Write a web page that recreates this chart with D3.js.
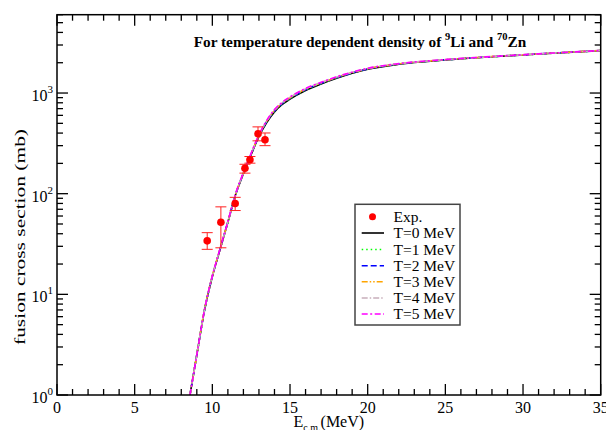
<!DOCTYPE html>
<html><head><meta charset="utf-8">
<script src="https://cdn.jsdelivr.net/npm/d3@7"></script>
<style>
body{margin:0;background:#fff}
text{font-family:"Liberation Serif","Times New Roman",serif;fill:#000}
</style>
</head><body>
<svg id="chart" width="606" height="430"></svg>
<script>
// ---- data ----
const energy  = [8.56, 9.0, 9.5, 10, 10.5, 11, 11.5, 12, 12.5, 13, 13.5, 14, 14.5, 15, 16, 17, 18, 20, 22, 25, 28, 31, 35];
const sigmaT0 = [1.0, 2.5, 7.0, 15, 28, 52, 98, 158, 245, 370, 510, 650, 770, 870, 1060, 1230, 1400, 1720, 1930, 2130, 2290, 2440, 2640];
const sigmaT1 = [1.0, 2.5, 7.0, 15.1, 28.1, 52.2, 98.4, 159, 247, 373, 515, 657, 778, 879, 1070, 1240, 1410, 1728, 1936, 2134, 2293, 2442, 2641];
const sigmaT2 = [1.0, 2.5, 7.0, 15.1, 28.2, 52.4, 98.8, 160, 248, 376, 520, 664, 786, 888, 1080, 1250, 1420, 1736, 1942, 2138, 2296, 2444, 2642];
const sigmaT3 = [1.0, 2.5, 7.1, 15.2, 28.3, 52.6, 99.2, 160, 250, 379, 525, 671, 794, 897, 1090, 1260, 1430, 1744, 1948, 2142, 2299, 2446, 2643];
const sigmaT4 = [1.0, 2.5, 7.1, 15.2, 28.4, 52.8, 99.6, 161, 251, 382, 530, 678, 802, 906, 1100, 1270, 1440, 1752, 1954, 2146, 2302, 2448, 2644];
const sigmaT5 = [1.0, 2.5, 7.1, 15.3, 28.5, 53, 100, 162, 253, 385, 535, 685, 810, 915, 1110, 1280, 1450, 1760, 1960, 2150, 2305, 2450, 2645];

const expE     = [9.67, 10.55, 11.47, 12.10, 12.42, 12.94, 13.39];
const expSigma = [34, 52, 80, 179, 217, 393, 343];
const expLow   = [28, 29, 68, 160, 201, 335, 300];
const expHigh  = [41, 74, 92, 196, 234, 461, 401];

const seriesNames = ["T=0 MeV","T=1 MeV","T=2 MeV","T=3 MeV","T=4 MeV","T=5 MeV"];
const seriesValues = [sigmaT0, sigmaT1, sigmaT2, sigmaT3, sigmaT4, sigmaT5];
const seriesColors = ["#000000","#00ff00","#0000ff","#ffa500","#c8aebb","#ff00ff"];
const seriesDash = [null, "1.5,3", "6,3", "6,2,1.5,2,1.5,2", "6,2,1.5,2", "6,2.5,2,2.5"];

const xTickValues = [0,5,10,15,20,25,30,35];
const yTickExps = [0,1,2,3];

// ---- layout ----
const svg = d3.select("#chart");
const L = 57, R = 600.7, T = 14.7, B = 395;
const x = d3.scaleLinear().domain([0,35]).range([L,R]);
const y = d3.scaleLog().domain([1,6000]).range([B,T]);

const plot = svg.append("g");
plot.append("defs").append("clipPath").attr("id","clip")
  .append("rect").attr("x",L).attr("y",T).attr("width",R-L).attr("height",B-T);

// curves
const line = d3.line().x((d,i)=>x(energy[i])).y(d=>y(d)).curve(d3.curveMonotoneX);
const gLines = plot.append("g").attr("clip-path","url(#clip)");
seriesValues.forEach((vals,k)=>{
  gLines.append("path").datum(vals).attr("d",line)
    .attr("fill","none").attr("stroke",seriesColors[k])
    .attr("stroke-width",1.6)
    .attr("stroke-dasharray",seriesDash[k]);
});

// experimental points
const gExp = plot.append("g");
expE.forEach((e,i)=>{
  const cx = x(e);
  gExp.append("line").attr("x1",cx).attr("x2",cx).attr("y1",y(expLow[i])).attr("y2",y(expHigh[i]))
    .attr("stroke","#ff2020").attr("stroke-width",1);
  [expLow[i],expHigh[i]].forEach(v=>{
    gExp.append("line").attr("x1",cx-5.5).attr("x2",cx+5.5).attr("y1",y(v)).attr("y2",y(v))
      .attr("stroke","#ff2020").attr("stroke-width",1);
  });
  gExp.append("circle").attr("cx",cx).attr("cy",y(expSigma[i])).attr("r",3.8).attr("fill","#ff0000");
});

// axes
const major = 11, minor = 6;
const xMinor = d3.range(0,36,1);
const yMinor = [];
for (let e=0;e<4;e++) for (let m=1;m<10;m++){ const v=m*Math.pow(10,e); if(v<=6000) yMinor.push(v); }
const gAx = svg.append("g").attr("stroke","#000").attr("stroke-width",1.3);
xMinor.forEach(v=>{
  const len = (v%5===0)?major:minor;
  gAx.append("line").attr("x1",x(v)).attr("x2",x(v)).attr("y1",B).attr("y2",B-len);
  gAx.append("line").attr("x1",x(v)).attr("x2",x(v)).attr("y1",T).attr("y2",T+len);
});
yMinor.forEach(v=>{
  const isMajor = Math.abs(Math.log10(v)-Math.round(Math.log10(v)))<1e-9;
  const len = isMajor?major:minor;
  gAx.append("line").attr("x1",L).attr("x2",L+len).attr("y1",y(v)).attr("y2",y(v));
  gAx.append("line").attr("x1",R).attr("x2",R-len).attr("y1",y(v)).attr("y2",y(v));
});
svg.append("rect").attr("x",L).attr("y",T).attr("width",R-L).attr("height",B-T)
  .attr("fill","none").attr("stroke","#000").attr("stroke-width",1.5);

// tick labels
svg.append("g").selectAll("text").data(xTickValues).join("text")
  .attr("x",d=>x(d)).attr("y",413).attr("text-anchor","middle")
  .attr("font-size",16).text(d=>d);
const yl = svg.append("g").selectAll("text").data(yTickExps).join("text")
  .attr("x",53).attr("y",d=>y(Math.pow(10,d))+8).attr("text-anchor","end").attr("font-size",16);
yl.append("tspan").text("10");
yl.append("tspan").attr("font-size",11).attr("dy",-8).text(d=>d);

// axis titles
const xt = svg.append("text").attr("x",(L+R)/2).attr("y",427).attr("text-anchor","middle").attr("font-size",16);
xt.append("tspan").text("E");
xt.append("tspan").attr("font-size",10).attr("dy",4).text("c.m.");
xt.append("tspan").attr("dy",-4).text("(MeV)");

svg.append("text").attr("transform","translate(25,237) rotate(-90)")
  .attr("text-anchor","middle").attr("font-size",15)
  .attr("textLength",216).attr("lengthAdjust","spacingAndGlyphs")
  .text("fusion cross section (mb)");

// title
const tt = svg.append("text").attr("x",360).attr("y",47).attr("text-anchor","middle")
  .attr("font-size",15.3).attr("font-weight","bold");
tt.append("tspan").text("For temperature dependent density of ");
tt.append("tspan").attr("font-size",10.5).attr("dy",-7).text("9");
tt.append("tspan").attr("dy",7).text("Li and ");
tt.append("tspan").attr("font-size",10.5).attr("dy",-7).text("70");
tt.append("tspan").attr("dy",7).text("Zn");

// legend
const lg = svg.append("g");
lg.append("rect").attr("x",355).attr("y",204.3).attr("width",105).attr("height",120.7)
  .attr("fill","#fff").attr("stroke","#444").attr("stroke-width",1.5);
const rowY = [216.7, 233, 249.5, 265.7, 281.8, 298, 314];
lg.append("circle").attr("cx",372.5).attr("cy",rowY[0]).attr("r",3.5).attr("fill","#ff0000");
lg.append("text").attr("x",393.5).attr("y",rowY[0]+5).attr("font-size",15.5).text("Exp.");
seriesNames.forEach((n,k)=>{
  lg.append("line").attr("x1",361.7).attr("x2",384).attr("y1",rowY[k+1]).attr("y2",rowY[k+1])
    .attr("stroke",seriesColors[k]).attr("stroke-width",1.6).attr("stroke-dasharray",seriesDash[k]);
  lg.append("text").attr("x",393.5).attr("y",rowY[k+1]+5).attr("font-size",15.5).text(n);
});
</script>
</body></html>
